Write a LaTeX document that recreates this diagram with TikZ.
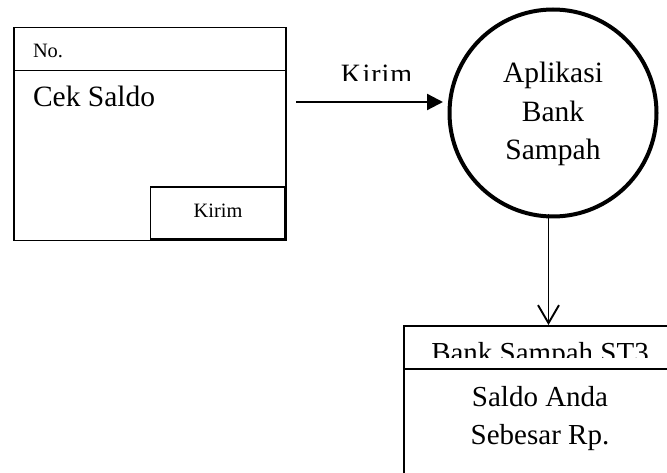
\documentclass[tikz,border=0pt]{standalone}
\usepackage{fontspec}
\setmainfont{Liberation Serif}
\usetikzlibrary{arrows.meta}

\tikzset{
  cell/.style={draw, line width=1.5pt, rectangle, inner sep=0pt, anchor=north west},
  txt/.style={inner sep=0pt, outer sep=0pt},
  flow/.style={line width=2.3pt, -{Triangle[length=16pt,width=16pt]}},
  reply/.style={line width=1.9pt, -{Straight Barb[length=18pt,width=21pt,line width=1.9pt]}},
  process/.style={circle, draw, line width=4pt, minimum size=207pt, inner sep=0pt}
}

\begin{document}
\begin{tikzpicture}[x=1pt,y=-1pt]
\useasboundingbox (0,0) rectangle (667,473);

% input form: header, body and send button
\node[cell, minimum width=272pt, minimum height=43pt] (hdr) at (13,27) {};
\node[cell, minimum width=272pt, minimum height=170pt] (body) at (13,70) {};
\node[cell, anchor=south east, minimum width=134pt, minimum height=52pt] (btn) at (285,240) {};
\node[txt, anchor=base west, font=\fontsize{20.4}{24}\selectfont] (no) at (33,58) {No.};
\node[txt, anchor=base west, font=\fontsize{29.5}{34}\selectfont] (cek) at (33,107) {Cek Saldo};
\node[txt, anchor=base, font=\fontsize{20.4}{24}\selectfont] (kirimbtn) at (218,218) {Kirim};

% process bubble
\node[process] (proc) at (553,113) {};
\node[txt, anchor=base, font=\fontsize{29.5}{34}\selectfont] (l1) at (553,83) {Aplikasi};
\node[txt, anchor=base, font=\fontsize{29.5}{34}\selectfont] (l2) at (553,122) {Bank};
\node[txt, anchor=base, font=\fontsize{29.5}{34}\selectfont] (l3) at (553,160) {Sampah};

% flow label, cut off at its lower edge
\begin{scope}
  \clip (330,55) rectangle (430,81);
  \node[txt, anchor=base, font=\fontsize{28}{32}\selectfont] (kirimlbl) at (376.5,83.5) {K\kern1.5pt i\kern1pt r\kern1pt i\kern1pt m};
\end{scope}

% send flow into the process
\coordinate (src) at (296,102);
\coordinate (dst) at (443,102);
\draw[flow] (src) -- (dst);

% output screen
\begin{scope}
  \clip (0,0) rectangle (667,473);
  \node[cell, minimum width=300pt, minimum height=43pt] (ohdr) at (403,325) {};
  \node[cell, minimum width=300pt, minimum height=140pt] (obody) at (403,368) {};
\end{scope}
\begin{scope}
  \clip (404,326) rectangle (667,357);
  \node[txt, anchor=base, font=\fontsize{29}{33}\selectfont] (title) at (540,362) {Bank Sampah ST3};
\end{scope}
\node[txt, anchor=base, font=\fontsize{29}{33}\selectfont] (s1) at (540,406) {Saldo Anda};
\node[txt, anchor=base, font=\fontsize{29}{33}\selectfont] (s2) at (540,444) {Sebesar Rp.};

% result flow from the process to the screen
\coordinate (drop) at (548.5,214);
\draw[reply] (drop) -- (drop |- ohdr.north);
\end{tikzpicture}
\end{document}
